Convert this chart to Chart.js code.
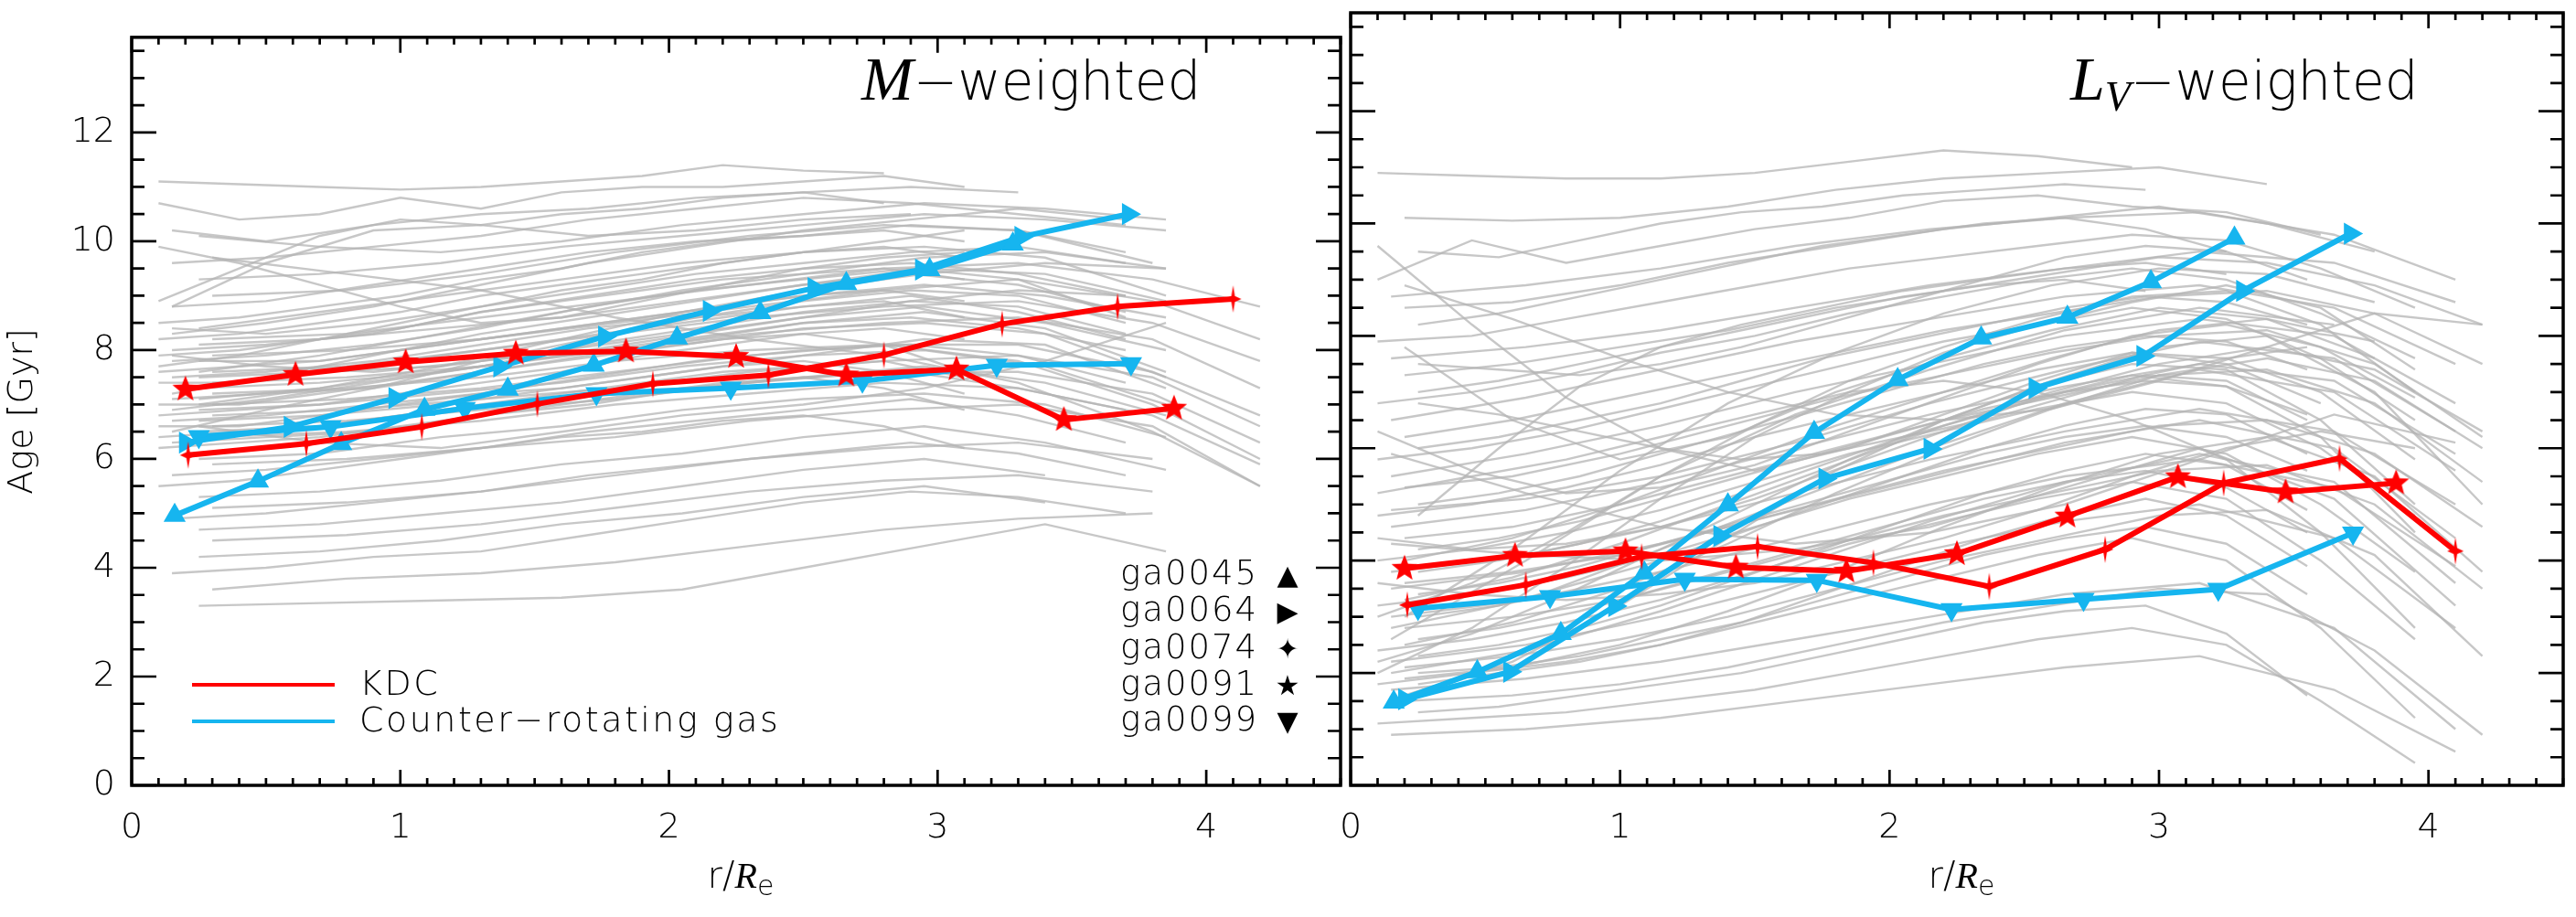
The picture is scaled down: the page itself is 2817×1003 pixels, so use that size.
<!DOCTYPE html>
<html>
<head>
<meta charset="utf-8">
<title>Age profiles</title>
<script src="https://cdn.jsdelivr.net/npm/chart.js@4.4.1/dist/chart.umd.min.js"></script>
<style>
  html, body { margin: 0; padding: 0; background: #fff; }
  #fig { position: relative; width: 2817px; height: 1003px; overflow: hidden;
         font-family: 'DejaVu Sans', sans-serif; font-weight: 200; color: #000; }
  #fig canvas { position: absolute; top: 0; }
  .txt { position: absolute; white-space: nowrap; line-height: 1; }
  .serif { font-family: 'Liberation Serif', 'DejaVu Serif', serif; font-style: italic; font-weight: 400; }
  .panel-title { font-size: 58px; }
  .panel-title .serif { font-size: 68px; }
  .panel-title sub { font-size: 46px; vertical-align: -12px; line-height: 0; }
  .xtitle { font-size: 40px; transform: translateX(-50%); }
  .xtitle sub { font-size: 30px; vertical-align: -8px; line-height: 0; }
  .leg { font-size: 38px; letter-spacing: 2.5px; }
  .swatch { position: absolute; height: 4px; width: 156px; }
  .gal { font-size: 37px; letter-spacing: 2px; }
  .gal .sym { display: inline-block; width: 40px; text-align: center; margin-left: 12px; font-weight: 400; font-size: 30px; letter-spacing: 0; }
</style>
</head>
<body>
<div id="fig">
  <canvas id="ageM" width="1480" height="1003" style="left:0"></canvas>
  <canvas id="ageL" width="1417" height="1003" style="left:1400px"></canvas>

  <div class="txt panel-title" style="left:942px; top:52px"><span class="serif">M</span>−weighted</div>
  <div class="txt panel-title" style="left:2264px; top:52px"><span class="serif">L<sub>V</sub></span>−weighted</div>

  <div class="txt xtitle" style="left:810px; top:937px">r/<span class="serif">R</span><sub>e</sub></div>
  <div class="txt xtitle" style="left:2145px; top:937px">r/<span class="serif">R</span><sub>e</sub></div>

  <div class="swatch" style="left:210px; top:747px; background:#ff0000"></div>
  <div class="swatch" style="left:210px; top:787px; background:#16b5ef"></div>
  <div class="txt leg" style="left:393px; top:728px">KDC</div>
  <div class="txt leg" style="left:393px; top:768px">Counter−rotating gas</div>

  <div class="txt gal" style="left:1225px; top:608px">ga0045<span class="sym">▲</span></div>
  <div class="txt gal" style="left:1225px; top:648px">ga0064<span class="sym">▶</span></div>
  <div class="txt gal" style="left:1225px; top:689px">ga0074<span class="sym">✦</span></div>
  <div class="txt gal" style="left:1225px; top:729px">ga0091<span class="sym">★</span></div>
  <div class="txt gal" style="left:1225px; top:768px">ga0099<span class="sym">▼</span></div>
</div>

<script>
/* ─── Axes ─────────────────────────────────────────────────────── */
const X_TICKS = [0, 1, 2, 3, 4];
const Y_TICKS = [0, 2, 4, 6, 8, 10, 12];
const X_MAX = 4.5;
const Y_MAX = 13.75;

/* ─── Highlighted galaxies: radii (r/Re) and ages (Gyr) ────────── */
const r_ga0045 = [0.16, 0.47, 0.78, 1.09, 1.40, 1.72, 2.03, 2.34, 2.66, 2.97, 3.28];
const mAge_ga0045 = [4.96, 5.59, 6.28, 6.91, 7.28, 7.72, 8.22, 8.69, 9.22, 9.48, 9.95];
const lAge_ga0045 = [1.48, 2.02, 2.70, 3.78, 4.99, 6.28, 7.22, 7.96, 8.33, 8.96, 9.74];

const r_ga0064 = [0.20, 0.59, 0.98, 1.37, 1.76, 2.15, 2.54, 2.94, 3.31, 3.71];
const mAge_ga0064 = [6.30, 6.59, 7.12, 7.70, 8.25, 8.72, 9.14, 9.48, 10.08, 10.50];
const lAge_ga0064 = [1.53, 2.02, 3.19, 4.44, 5.46, 5.99, 7.07, 7.64, 8.80, 9.82];

const r_ga0074 = [0.21, 0.65, 1.08, 1.51, 1.94, 2.37, 2.80, 3.24, 3.67, 4.10];
const mAge_ga0074 = [6.07, 6.28, 6.59, 7.01, 7.38, 7.54, 7.91, 8.48, 8.80, 8.94];
const lAge_ga0074 = [3.21, 3.57, 4.07, 4.25, 3.96, 3.54, 4.20, 5.38, 5.82, 4.17];

const r_ga0091 = [0.20, 0.61, 1.02, 1.43, 1.84, 2.25, 2.66, 3.07, 3.47, 3.88];
const mAge_ga0091 = [7.28, 7.55, 7.78, 7.94, 7.98, 7.88, 7.54, 7.65, 6.72, 6.93];
const lAge_ga0091 = [3.86, 4.09, 4.17, 3.88, 3.81, 4.12, 4.79, 5.49, 5.22, 5.38];

const r_ga0099 = [0.25, 0.74, 1.24, 1.73, 2.23, 2.72, 3.22, 3.72];
const mAge_ga0099 = [6.41, 6.59, 6.93, 7.20, 7.30, 7.43, 7.72, 7.75];
const lAge_ga0099 = [3.15, 3.36, 3.67, 3.65, 3.13, 3.31, 3.49, 4.49];

/* ─── Background sample, mass-weighted (grouped by radial grid) ── */
const GRID_MA = [0.15, 0.5, 0.9, 1.3, 1.7, 2.1, 2.5, 2.9, 3.3, 3.7];
const greyMA = [
  [10.2, 10.0, 10.3, 10.5, 10.6, 10.8, 10.9, 11.0, 10.9],
  [9.6, 9.7, 9.9, 10.1, 10.4, 10.6, 10.8, 10.7, 10.5, 10.3],
  [8.8, 8.9, 9.2, 9.5, 9.8, 10.0, 10.1, 10.3, 10.2, 9.8],
  [8.4, 8.3, 8.5, 8.8, 9.1, 9.4, 9.6, 9.8, 9.9, 9.6],
  [8.0, 8.1, 8.3, 8.7, 9.0, 9.3, 9.5, 9.6, 9.4, 9.0],
  [7.9, 7.7, 7.6, 7.8, 8.0, 8.3, 8.6, 8.9, 9.1, 9.0],
  [7.8, 7.9, 8.1, 8.4, 8.8, 9.1, 9.3, 9.5, 9.3, 8.6],
  [7.5, 7.6, 7.8, 8.1, 8.4, 8.6, 8.8, 9.0, 8.7, 8.2],
  [7.2, 7.5, 7.9, 8.3, 8.6, 8.9, 9.2, 9.4, 9.2, 8.7],
  [7.1, 7.2, 7.3, 7.6, 7.9, 8.2, 8.5, 8.6, 8.4, 8.0],
  [6.9, 7.1, 7.4, 7.7, 8.1, 8.4, 8.7, 8.9, 8.8, 8.3],
  [6.7, 6.8, 7.0, 7.2, 7.5, 7.8, 8.0, 8.1, 7.9, 7.4],
  [6.5, 6.9, 7.3, 7.8, 8.2, 8.6, 8.9, 9.1, 9.0, 8.5],
  [6.3, 6.4, 6.5, 6.8, 7.0, 7.3, 7.5, 7.6, 7.3, 6.9],
  [5.7, 5.8, 6.0, 6.2, 6.5, 6.7, 6.9, 7.1, 6.8, 6.3],
  [4.9, 5.0, 5.2, 5.4, 5.7, 5.9, 6.1, 6.3, 6.1, 5.7],
  [3.9, 4.0, 4.2, 4.3, 4.6, 4.9, 5.2, 5.4, 5.3, 5.0],
  [8.8, 9.6, 10.2, 10.3, 10.1, 10.2, 10.4, 10.5],
  [8.3, 8.5, 8.8, 9.2, 9.6, 9.9, 10.2, 10.4, 10.6, 10.4],
];
const GRID_MB = [0.25, 0.7, 1.15, 1.6, 2.05, 2.5, 2.95, 3.4, 3.85];
const greyMB = [
  [10.1, 9.9, 9.8, 10.0, 10.3, 10.5, 10.7, 10.6, 10.4],
  [9.3, 9.4, 9.6, 9.9, 10.1, 10.3, 10.5, 10.4, 10.2],
  [8.4, 8.7, 9.0, 9.3, 9.6, 9.8, 9.9, 9.7, 9.0],
  [8.1, 8.2, 8.4, 8.6, 8.9, 9.2, 9.5, 9.4, 8.9],
  [7.8, 7.8, 8.1, 8.4, 8.7, 9.0, 9.2, 9.0, 8.6],
  [7.6, 7.9, 8.3, 8.7, 9.1, 9.4, 9.7, 9.8, 9.5],
  [7.5, 7.6, 7.7, 8.0, 8.3, 8.6, 8.8, 8.5, 8.0],
  [7.3, 7.4, 7.6, 7.9, 8.1, 8.4, 8.5, 8.3, 7.5],
  [7.1, 7.3, 7.6, 7.9, 8.2, 8.5, 8.7, 8.4, 7.6],
  [6.9, 7.0, 7.2, 7.4, 7.7, 7.9, 8.0, 7.7, 7.0],
  [6.7, 6.8, 7.0, 7.3, 7.6, 7.9, 8.2, 8.1, 7.3],
  [6.5, 6.6, 6.9, 7.1, 7.3, 7.5, 7.7, 7.4, 6.8],
  [6.0, 6.1, 6.4, 6.6, 6.9, 7.1, 7.2, 7.0, 6.4],
  [5.3, 5.4, 5.6, 5.9, 6.1, 6.4, 6.6, 6.3, 5.8],
  [4.7, 4.8, 5.0, 5.2, 5.5, 5.8, 6.0, 5.7],
  [4.2, 4.3, 4.5, 4.8, 5.0, 5.3, 5.5, 5.2],
  [3.3, 3.35, 3.4, 3.45, 3.6, 4.0, 4.4, 4.8, 4.3],
  [6.6, 6.3, 6.2, 6.5, 6.8, 7.0, 7.3, 7.8, 8.5],
  [7.0, 7.3, 7.7, 8.2, 8.7, 9.1, 9.4, 9.6, 9.5],
];
const GRID_MC = [0.1, 0.4, 0.7, 1.0, 1.3, 1.6, 1.9, 2.2, 2.5, 2.8, 3.1];
const greyMC = [
  [11.1, 11.05, 11.0, 10.95, 11.0, 11.1, 11.2, 11.4, 11.3, 11.25],
  [10.7, 10.4, 10.5, 10.8, 10.6, 10.9, 11.0, 11.0, 11.1, 11.2, 11.0],
  [8.9, 9.5, 10.1, 10.4, 10.3, 10.5, 10.6, 10.8, 10.9, 10.7],
  [8.5, 8.6, 8.8, 9.0, 9.3, 9.5, 9.8, 10.0, 10.1, 10.2, 10.0],
  [8.2, 8.3, 8.5, 8.7, 9.0, 9.2, 9.4, 9.6, 9.8, 9.9, 9.7],
  [7.9, 8.0, 8.2, 8.4, 8.7, 8.9, 9.1, 9.3, 9.4, 9.5, 9.3],
  [7.6, 7.7, 7.8, 8.0, 8.2, 8.4, 8.6, 8.8, 9.0, 9.1, 8.9],
  [7.4, 7.4, 7.6, 7.8, 8.0, 8.2, 8.4, 8.6, 8.8, 8.9, 8.6],
  [7.0, 7.0, 7.2, 7.4, 7.6, 7.8, 8.0, 8.2, 8.3, 8.1, 7.6],
  [6.8, 6.9, 7.0, 7.2, 7.4, 7.6, 7.9, 8.1, 8.3, 8.4, 8.2],
  [6.6, 6.6, 6.8, 7.0, 7.2, 7.3, 7.5, 7.7, 7.8, 7.6, 7.2],
  [6.4, 6.5, 6.6, 6.8, 7.0, 7.2, 7.4, 7.6, 7.7, 7.8, 7.5],
  [6.2, 6.3, 6.4, 6.6, 6.8, 7.0, 7.2, 7.4, 7.5, 7.3, 6.9],
  [5.5, 5.6, 5.8, 6.0, 6.2, 6.4, 6.5, 6.7, 6.8, 6.6, 6.2],
  [9.9, 9.6, 9.2, 8.8, 8.5, 8.6, 8.9, 9.2, 9.5, 9.7, 9.8],
  [7.7, 7.9, 8.2, 8.5, 8.8, 9.1, 9.3, 9.6, 9.8, 10.0, 10.2],
];
const GRID_MD = [0.3, 0.8, 1.3, 1.8, 2.3, 2.8, 3.3, 3.8, 4.2];
const greyMD = [
  [9.0, 9.1, 9.4, 9.8, 10.1, 10.3, 10.2, 9.6],
  [8.2, 8.3, 8.6, 8.9, 9.2, 9.5, 9.6, 9.3, 8.8],
  [7.9, 8.0, 8.2, 8.5, 8.8, 9.1, 9.3, 8.9, 8.2],
  [7.6, 7.7, 8.0, 8.3, 8.6, 8.8, 8.9, 8.5, 7.8],
  [7.4, 7.5, 7.7, 8.0, 8.3, 8.5, 8.6, 8.2, 7.3],
  [7.2, 7.3, 7.5, 7.8, 8.0, 8.1, 7.8, 7.0, 6.0],
  [7.0, 7.1, 7.3, 7.6, 7.9, 8.1, 8.1, 7.6, 6.8],
  [6.8, 6.9, 7.1, 7.3, 7.6, 7.8, 7.9, 7.5, 6.6],
  [6.6, 6.7, 6.9, 7.1, 7.4, 7.6, 7.6, 7.2, 6.3],
  [6.4, 6.5, 6.7, 7.0, 7.2, 7.4, 7.3, 6.8, 5.9],
  [5.9, 6.0, 6.2, 6.4, 6.7, 6.9, 7.0, 6.6, 5.5],
  [5.1, 5.2, 5.4, 5.7, 6.0, 6.2, 6.3, 6.0],
  [4.5, 4.6, 4.8, 5.1, 5.4, 5.6, 5.7, 5.4],
  [3.6, 3.8, 3.9, 4.1, 4.4, 4.7, 4.9, 5.0],
  [9.7, 9.4, 9.1, 8.6, 8.2, 7.9, 7.4, 6.5, 5.5],
];

/* ─── Background sample, V-luminosity-weighted ─────────────────── */
const GRID_LA = [0.1, 0.45, 0.8, 1.15, 1.5, 1.85, 2.2, 2.55, 2.9, 3.25, 3.6, 3.95];
const greyLA = [
  [10.9, 10.85, 10.8, 10.8, 10.9, 11.1, 11.3, 11.2, 11.0],
  [9.0, 9.7, 9.3, 9.6, 9.9, 10.1, 10.4, 10.5, 10.3, 10.2, 9.8],
  [7.9, 8.0, 8.3, 8.6, 8.9, 9.2, 9.4, 9.6, 9.8, 9.7, 9.2, 8.5],
  [6.8, 7.0, 7.3, 7.7, 8.0, 8.4, 8.7, 9.0, 9.2, 9.0, 8.4, 7.6],
  [6.3, 5.6, 5.2, 5.3, 5.7, 6.3, 6.9, 7.5, 8.0, 8.2, 7.8, 6.9],
  [5.8, 6.0, 6.3, 6.7, 7.1, 7.5, 7.9, 8.2, 8.5, 8.3, 7.6, 6.5],
  [4.8, 5.0, 5.3, 5.7, 6.2, 6.6, 7.0, 7.4, 7.7, 7.6, 7.0, 5.8],
  [4.4, 4.2, 4.3, 4.6, 5.1, 5.7, 6.3, 6.9, 7.3, 7.1, 6.2, 4.5],
  [4.0, 4.2, 4.5, 4.9, 5.4, 5.9, 6.3, 6.7, 7.0, 6.8, 6.0, 4.8],
  [3.2, 3.4, 3.7, 4.1, 4.6, 5.1, 5.5, 5.9, 6.2, 5.9, 5.0, 3.8],
  [3.0, 3.6, 4.5, 5.5, 6.4, 7.2, 7.8, 8.3, 8.7, 8.8, 8.2, 7.0],
  [2.4, 2.6, 2.9, 3.3, 3.8, 4.3, 4.7, 5.1, 5.4, 5.1, 4.0, 2.6],
  [2.2, 2.7, 3.4, 4.2, 5.0, 5.8, 6.5, 7.1, 7.5, 7.4, 6.5, 5.0],
  [1.8, 2.0, 2.2, 2.5, 2.9, 3.3, 3.7, 4.1, 4.4, 4.0, 2.8, 1.2],
  [1.1, 1.2, 1.3, 1.5, 1.7, 2.0, 2.3, 2.6, 2.8, 2.5, 1.5, 0.4],
  [9.6, 8.2, 6.9, 6.0, 5.6, 6.0, 6.6, 7.2, 7.7, 7.5, 6.8],
  [3.6, 3.4, 3.3, 3.4, 3.6, 4.0, 4.4, 4.9, 5.5, 6.0, 6.3, 6.0],
  [2.0, 2.8, 3.9, 5.1, 6.2, 7.0, 7.7, 8.2, 8.6, 8.9, 8.5, 7.4],
  [5.2, 5.5, 5.8, 6.2, 6.6, 7.0, 7.2, 7.0, 6.5, 5.8, 4.5, 2.8],
];
const GRID_LB = [0.2, 0.6, 1.0, 1.4, 1.8, 2.2, 2.6, 3.0, 3.4, 3.8, 4.2];
const greyLB = [
  [10.1, 10.05, 10.1, 10.3, 10.6, 10.8, 10.9, 11.0, 10.7],
  [8.5, 8.6, 8.9, 9.3, 9.6, 9.9, 10.1, 10.3, 10.0, 9.5],
  [7.3, 7.5, 7.8, 8.1, 8.5, 8.8, 9.1, 9.4, 9.3, 8.9, 8.2],
  [6.2, 6.5, 6.9, 7.3, 7.7, 8.1, 8.4, 8.7, 8.8, 8.4, 7.5],
  [5.3, 5.5, 5.9, 6.4, 6.9, 7.3, 7.7, 8.0, 8.1, 7.5, 6.2],
  [4.4, 4.6, 5.0, 5.5, 6.0, 6.5, 6.9, 7.3, 7.4, 6.8, 5.4],
  [4.0, 4.4, 5.0, 5.7, 6.4, 7.0, 7.6, 8.1, 8.3, 7.9],
  [3.6, 3.8, 4.1, 4.6, 5.1, 5.6, 6.0, 6.4, 6.5, 5.9, 4.6],
  [3.3, 3.7, 4.3, 5.0, 5.7, 6.4, 7.0, 7.5, 7.8, 7.4, 6.3],
  [2.8, 3.0, 3.3, 3.8, 4.3, 4.8, 5.2, 5.6, 5.7, 5.0, 3.5],
  [2.5, 2.9, 3.5, 4.3, 5.2, 6.0, 6.7, 7.3, 7.6, 7.2, 6.0],
  [2.1, 2.3, 2.6, 3.0, 3.5, 4.0, 4.4, 4.8, 4.9, 4.1, 2.3],
  [1.9, 2.1, 2.5, 3.1, 3.8, 4.6, 5.3, 5.9, 6.2, 5.5, 3.8],
  [1.5, 1.6, 1.8, 2.1, 2.5, 2.9, 3.2, 3.5, 3.4, 2.4, 0.9],
  [7.8, 6.5, 5.8, 6.2, 7.0, 7.6, 8.1, 8.5, 8.3, 7.6],
  [3.0, 4.2, 5.6, 6.8, 7.7, 8.4, 8.9, 9.2, 9.1, 8.6],
  [8.9, 8.3, 7.6, 7.0, 6.6, 6.5, 6.7, 7.2, 7.8, 8.4, 8.2],
  [1.6, 2.2, 3.2, 4.4, 5.6, 6.5, 7.2, 7.8, 8.0, 7.0, 5.0],
];
const GRID_LC = [0.15, 0.65, 1.15, 1.65, 2.15, 2.65, 3.15, 3.65, 4.1];
const greyLC = [
  [8.7, 8.9, 9.2, 9.6, 9.9, 10.1, 10.2, 9.8, 9.0],
  [7.6, 7.8, 8.1, 8.5, 8.9, 9.2, 9.5, 9.3, 8.6],
  [6.5, 6.9, 7.4, 7.9, 8.3, 8.7, 8.9, 8.5, 7.5],
  [5.5, 5.9, 6.4, 7.0, 7.5, 8.0, 8.3, 8.0, 6.8],
  [4.9, 5.1, 5.5, 6.1, 6.8, 7.4, 7.9, 7.6, 6.3],
  [4.6, 4.9, 5.4, 6.0, 6.6, 7.1, 7.5, 7.2, 5.9],
  [3.8, 4.1, 4.6, 5.2, 5.8, 6.3, 6.7, 6.3, 5.0],
  [3.5, 3.8, 4.3, 4.9, 5.5, 6.1, 6.5, 6.0, 4.4],
  [3.0, 3.3, 3.8, 4.4, 5.0, 5.5, 5.8, 5.3, 3.9],
  [2.8, 3.3, 4.2, 5.1, 6.0, 6.8, 7.4, 7.0, 5.6],
  [2.2, 2.5, 3.0, 3.6, 4.2, 4.7, 5.0, 4.4, 2.8],
  [2.0, 2.4, 3.1, 3.9, 4.7, 5.4, 5.9, 5.4, 3.6],
  [1.7, 1.9, 2.2, 2.6, 3.0, 3.4, 3.6, 2.8, 1.0],
  [0.9, 1.0, 1.2, 1.5, 1.8, 2.1, 2.3, 1.7, 0.6],
  [2.6, 4.0, 5.5, 6.6, 7.4, 8.1, 8.5, 8.2],
  [5.9, 5.2, 4.6, 4.3, 4.5, 5.0, 5.8, 6.6, 6.1],
  [4.3, 4.1, 4.0, 4.2, 4.6, 5.3, 6.0, 5.1, 3.2],
];
const GRID_LD = [0.25, 0.55, 0.85, 1.15, 1.45, 1.75, 2.05, 2.35, 2.65, 2.95, 3.25, 3.55];
const greyLD = [
  [9.5, 9.4, 9.7, 10.0, 10.2, 10.3, 10.5, 10.6, 10.7, 10.6],
  [8.2, 8.4, 8.7, 9.0, 9.3, 9.6, 9.8, 10.0, 10.1, 9.9, 9.5],
  [7.0, 7.2, 7.5, 7.8, 8.2, 8.5, 8.8, 9.0, 9.2, 9.3, 9.1],
  [6.0, 6.2, 6.5, 6.8, 7.2, 7.6, 7.9, 8.2, 8.5, 8.7, 8.6, 8.2],
  [5.0, 5.2, 5.5, 5.9, 6.3, 6.7, 7.1, 7.5, 7.8, 8.0, 7.9, 7.4],
  [4.2, 4.4, 4.7, 5.1, 5.5, 5.9, 6.3, 6.7, 7.0, 7.2, 7.1, 6.6],
  [3.8, 4.0, 4.3, 4.7, 5.2, 5.7, 6.2, 6.6, 7.0, 7.3, 7.2, 6.5],
  [3.4, 3.6, 3.9, 4.3, 4.7, 5.1, 5.5, 5.9, 6.2, 6.4, 6.2, 5.6],
  [3.0, 3.2, 3.6, 4.0, 4.5, 5.0, 5.5, 6.0, 6.4, 6.7, 6.6, 5.9],
  [2.6, 2.8, 3.1, 3.5, 3.9, 4.3, 4.7, 5.1, 5.4, 5.6, 5.3, 4.5],
  [2.3, 2.5, 2.8, 3.2, 3.7, 4.2, 4.7, 5.2, 5.6, 5.9, 5.7, 4.9],
  [2.0, 2.1, 2.3, 2.6, 2.9, 3.3, 3.7, 4.1, 4.4, 4.6, 4.3, 3.4],
  [1.8, 2.0, 2.2, 2.5, 2.9, 3.4, 3.9, 4.4, 4.8, 5.1, 4.8, 3.9],
  [1.3, 1.4, 1.6, 1.8, 2.0, 2.3, 2.6, 2.9, 3.1, 3.2, 2.7, 1.6],
  [4.8, 6.0, 7.1, 7.8, 8.1, 8.4, 8.7, 8.9, 9.0, 8.8],
  [6.8, 6.6, 6.3, 6.0, 5.8, 5.9, 6.2, 6.5, 6.9, 7.3, 7.6, 7.8],
  [7.5, 7.4, 7.3, 7.5, 7.8, 8.2, 8.6, 9.0, 9.4, 9.6, 9.5, 9.0],
];

/* ─── Styling ──────────────────────────────────────────────────── */
const RED = '#ff0000';
const CYAN = '#16b5ef';
const GREY = 'rgba(180,180,180,0.75)';
const FONT = { family: "'DejaVu Sans', sans-serif", size: 38, weight: '200' };

function starMarker(points, outer, inner, sx) {
  const size = Math.ceil(outer * 2 + 4);
  const c = document.createElement('canvas');
  c.width = size; c.height = size;
  const g = c.getContext('2d');
  g.translate(size / 2, size / 2);
  g.fillStyle = RED;
  g.beginPath();
  for (let i = 0; i < points * 2; i++) {
    const a = -Math.PI / 2 + i * Math.PI / points;
    const r = i % 2 ? inner : outer;
    g.lineTo(Math.cos(a) * r * sx, Math.sin(a) * r);
  }
  g.closePath();
  g.fill();
  return c;
}
const STAR5 = starMarker(5, 15, 6.5, 1);
const STAR4 = starMarker(4, 15, 4.5, 0.6);

function profile(r, age) {
  return r.map((x, i) => ({ x, y: age[i] }));
}

function galaxy(r, age, color, style, rotation, order) {
  return {
    data: profile(r, age),
    borderColor: color, backgroundColor: color,
    pointBackgroundColor: color, pointBorderWidth: 0,
    borderWidth: 6, tension: 0,
    pointStyle: style, pointRotation: rotation, pointRadius: 14,
    order,
  };
}

function greyLines(grid, rows) {
  return rows.map(ages => ({
    data: profile(grid, ages),
    borderColor: GREY, borderWidth: 2.4, pointRadius: 0, tension: 0, order: 10,
  }));
}

/* ─── Frame with inward ticks on all four sides ────────────────── */
const framePlugin = {
  id: 'frame',
  afterDraw(chart) {
    const { ctx, chartArea: a, scales: { x, y } } = chart;
    ctx.save();
    ctx.strokeStyle = '#000';
    ctx.lineWidth = 2.7;
    ctx.beginPath();
    for (let i = 0; i <= X_MAX * 10; i++) {
      const px = x.getPixelForValue(i / 10);
      const len = i % 10 === 0 ? 17 : 8;
      ctx.moveTo(px, a.bottom); ctx.lineTo(px, a.bottom - len);
      ctx.moveTo(px, a.top); ctx.lineTo(px, a.top + len);
    }
    for (let j = 0; j <= Y_MAX * 2; j++) {
      const py = y.getPixelForValue(j / 2);
      const len = j % 4 === 0 ? 27 : 14;
      ctx.moveTo(a.left, py); ctx.lineTo(a.left + len, py);
      ctx.moveTo(a.right, py); ctx.lineTo(a.right - len, py);
    }
    ctx.stroke();
    ctx.lineWidth = 3.5;
    ctx.strokeRect(a.left, a.top, a.right - a.left, a.bottom - a.top);
    ctx.restore();
  }
};

function makeChart(id, datasets, showY, padding) {
  return new Chart(document.getElementById(id), {
    type: 'line',
    data: { datasets },
    plugins: [framePlugin],
    options: {
      responsive: false, animation: false, events: [],
      layout: { padding },
      plugins: { legend: { display: false }, tooltip: { enabled: false } },
      scales: {
        x: {
          type: 'linear', min: 0, max: X_MAX,
          grid: { display: false, drawTicks: false }, border: { display: false },
          afterBuildTicks: s => { s.ticks = X_TICKS.map(value => ({ value })); },
          afterFit: s => { s.height = 144; },
          ticks: { font: FONT, color: '#000', padding: 24, maxRotation: 0, autoSkip: false,
                   callback: v => String(v) },
        },
        y: {
          type: 'linear', min: 0, max: Y_MAX, display: showY,
          grid: { display: false, drawTicks: false }, border: { display: false },
          afterBuildTicks: s => { s.ticks = Y_TICKS.map(value => ({ value })); },
          afterFit: s => { s.width = showY ? 144 : 0; },
          ticks: { font: FONT, color: '#000', padding: 18, callback: v => String(v) },
          title: { display: true, text: 'Age [Gyr]', font: FONT, color: '#000', padding: { top: 2, bottom: 0 } },
        },
      },
    },
  });
}

const massSets = [
  galaxy(r_ga0091, mAge_ga0091, RED, STAR5, 0, 0),
  galaxy(r_ga0074, mAge_ga0074, RED, STAR4, 0, 0),
  galaxy(r_ga0045, mAge_ga0045, CYAN, 'triangle', 0, 1),
  galaxy(r_ga0064, mAge_ga0064, CYAN, 'triangle', 90, 1),
  galaxy(r_ga0099, mAge_ga0099, CYAN, 'triangle', 180, 1),
  ...greyLines(GRID_MA, greyMA), ...greyLines(GRID_MB, greyMB),
  ...greyLines(GRID_MC, greyMC), ...greyLines(GRID_MD, greyMD),
];

const lumSets = [
  galaxy(r_ga0091, lAge_ga0091, RED, STAR5, 0, 0),
  galaxy(r_ga0074, lAge_ga0074, RED, STAR4, 0, 0),
  galaxy(r_ga0045, lAge_ga0045, CYAN, 'triangle', 0, 1),
  galaxy(r_ga0064, lAge_ga0064, CYAN, 'triangle', 90, 1),
  galaxy(r_ga0099, lAge_ga0099, CYAN, 'triangle', 180, 1),
  ...greyLines(GRID_LA, greyLA), ...greyLines(GRID_LB, greyLB),
  ...greyLines(GRID_LC, greyLC), ...greyLines(GRID_LD, greyLD),
];

makeChart('ageM', massSets, true, { top: 3, right: 3, left: 0, bottom: 0 });
makeChart('ageL', lumSets, false, { top: 3, right: 5, left: 77, bottom: 0 });
</script>
</body>
</html>
